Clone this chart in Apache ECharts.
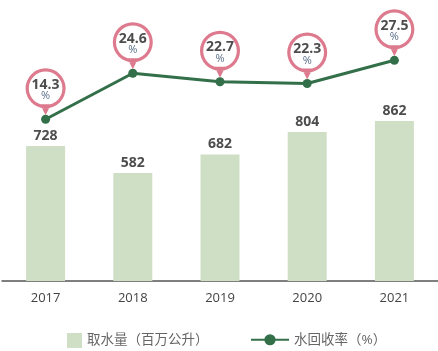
<!DOCTYPE html>
<html>
<head>
<meta charset="utf-8">
<script src="https://cdn.jsdelivr.net/npm/echarts@6/dist/echarts.min.js"></script>
<style>
  html, body { margin: 0; padding: 0; background: #fff; }
  #chart { width: 438px; height: 351px; }
</style>
</head>
<body>
<div id="chart"></div>
<script>
var years = ['2017', '2018', '2019', '2020', '2021']
var intake = [728, 582, 682, 804, 862]
var recycleRate = [14.3, 24.6, 22.7, 22.3, 27.5]

// pink ring with a small wedge under it
var pinPath = 'path://M0,20 A20,20 0 1,1 40,20 A20,20 0 1,1 0,20 Z' +
  ' M3.2,20 A16.8,16.8 0 1,0 36.8,20 A16.8,16.8 0 1,0 3.2,20 Z' +
  ' M14.5,36 L25.5,36 L20,47 Z'

var myChart = echarts.init(document.getElementById('chart'), null, { renderer: 'canvas' })

var pinData = []
for (let i = 0; i < years.length; i++) {
  pinData.push({ coord: [i, recycleRate[i]], value: recycleRate[i] })
}

var option = {
  animation: false,
  textStyle: { fontFamily: '"Open Sans", "Noto Sans CJK SC", sans-serif' },
  grid: { left: 2, right: -2, top: 0, bottom: 70 },
  legend: [
    {
      left: 62,
      top: 328,
      itemWidth: 15,
      itemHeight: 15,
      data: [{ name: '取水量（百万公升）', icon: 'rect' }],
      textStyle: { color: '#666', fontSize: 13.5 }
    },
    {
      left: 245,
      top: 328,
      itemWidth: 38,
      itemHeight: 14,
      data: ['水回收率（%）'],
      textStyle: { color: '#666', fontSize: 13.5 }
    }
  ],
  xAxis: {
    type: 'category',
    data: years,
    axisTick: { show: false },
    axisLine: { lineStyle: { color: '#555', width: 1.5 } },
    axisLabel: { color: '#444', fontSize: 13, margin: 11 }
  },
  yAxis: [
    { type: 'value', min: 0, max: 1515, show: false, splitLine: { show: false } },
    { type: 'value', min: -21.9, max: 41, show: false, splitLine: { show: false } }
  ],
  series: [
    {
      name: '取水量（百万公升）',
      type: 'bar',
      data: intake,
      barWidth: 39,
      itemStyle: { color: '#cfdfc5' },
      label: {
        show: true,
        position: 'top',
        distance: 3,
        color: '#4d4d4d',
        fontWeight: 'bold',
        fontSize: 14
      }
    },
    {
      name: '水回收率（%）',
      type: 'line',
      yAxisIndex: 1,
      data: recycleRate,
      symbol: 'circle',
      symbolSize: 9,
      itemStyle: { color: '#33704a' },
      lineStyle: { color: '#33704a', width: 3 },
      markPoint: {
        symbol: pinPath,
        symbolSize: [40, 47],
        symbolOffset: [0, -27.5],
        itemStyle: { color: '#dd7a8e' },
        label: {
          show: true,
          position: 'inside',
          offset: [0, -2],
          formatter: function (p) { return '{a|' + p.value + '}\n{b|%}' },
          rich: {
            a: { color: '#4d4d4d', fontWeight: 'bold', fontSize: 14, lineHeight: 13 },
            b: { color: '#5a6e88', fontSize: 11, lineHeight: 10 }
          }
        },
        data: pinData
      }
    }
  ]
}

option && myChart.setOption(option)
</script>
</body>
</html>
